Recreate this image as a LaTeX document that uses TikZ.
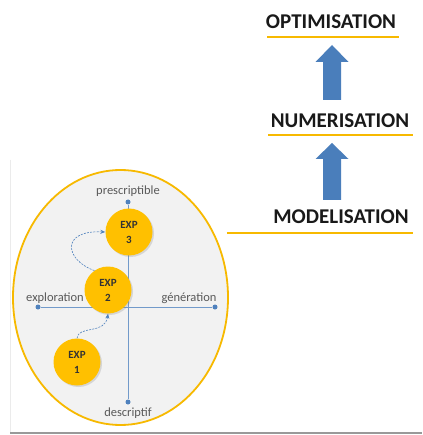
\documentclass[tikz,border=0pt]{standalone}
\usepackage{fontspec}
\setmainfont{Carlito}
\usetikzlibrary{arrows.meta,shapes.geometric,shadows}
\definecolor{gold}{HTML}{FFC000}
\definecolor{goldline}{HTML}{F7B900}
\definecolor{axisblue}{HTML}{4F81BD}
\definecolor{arrowblue}{HTML}{4A7EBB}
\definecolor{lbl}{HTML}{595959}
\tikzset{
  x=1pt, y=-1pt,
  title/.style={font=\bfseries\fontsize{21}{24}\selectfont, text=black!90, inner sep=0pt},
  uline/.style={draw=goldline, line width=2.4pt},
  expnode/.style={circle, fill=gold, minimum size=47pt, inner sep=0pt, align=center,
     font=\bfseries\fontsize{11}{15}\selectfont, text=black!80,
     drop shadow={shadow xshift=1.5pt, shadow yshift=-1.5pt, opacity=0.25}},
  axis/.style={draw=axisblue!80, line width=0.6pt},
  dot/.style={circle, fill=axisblue, inner sep=0pt, minimum size=5pt},
  axlabel/.style={font=\fontsize{12.5}{14}\selectfont, text=lbl, inner sep=1pt},
  flow/.style={draw=axisblue, line width=0.6pt, dash pattern=on 2pt off 1.2pt, -{Stealth[length=5pt,width=4pt]}},
  bigarrow/.style={fill=arrowblue, draw=none}
}
\begin{document}
\begin{tikzpicture}
\useasboundingbox (0,0) rectangle (422,435);
\fill[white] (0,0) rectangle (422,435);
% frame
\draw[black!8, line width=0.8pt] (10,160) -- (10,432);
\draw[black!40, line width=2pt] (10,433) -- (422,433);
% ellipse
\node[ellipse, draw=goldline, line width=1.8pt, fill=black!5, minimum width=215pt, minimum height=255pt, inner sep=0pt] (ell) at (120.5,297.5) {};
% axes
\node[dot] (top) at (128,202) {};
\node[dot] (bot) at (128,402) {};
\node[dot] (lft) at (38,307) {};
\node[dot] (rgt) at (215,307) {};
\draw[axis] (top) -- (bot);
\draw[axis] (lft) -- (rgt);
\node[axlabel] (ptxt) at (128,191) {prescriptible};
\node[axlabel] (dtxt) at (128,413) {descriptif};
\node[axlabel] (etxt) at (55,298) {exploration};
\node[axlabel] (gtxt) at (189,298) {génération};
% experiments
\node[expnode] (e3) at (129,232) {EXP\\3};
\node[expnode] (e2) at (108,290) {EXP\\2};
\node[expnode] (e1) at (77,362) {EXP\\1};
\draw[flow] (e1.north) .. controls (78,325) and (105,335) .. (e2.south);
\draw[flow] (e2.125) .. controls (65,260) and (60,230) .. (e3.west);
% right column
\node[title] (opt) at (331,22) {OPTIMISATION};
\node[title] (num) at (340,121) {NUMERISATION};
\node[title] (mod) at (341,217) {MODELISATION};
\coordinate (o1) at (267,37); \coordinate (o2) at (399,37);
\coordinate (n1) at (268,135); \coordinate (n2) at (413,135);
\coordinate (m2) at (413,233);
\draw[uline] (o1) -- (o2);
\draw[uline] (n1) -- (n2);
\draw[uline] (ell.east |- m2) ++(-2,0) -- (m2);
% block arrows
\fill[bigarrow] (323,100) -- (323,62) -- (315.5,62) -- (332,45) -- (348.5,62) -- (341,62) -- (341,100) -- cycle;
\fill[bigarrow] (323,200) -- (323,159) -- (315.5,159) -- (332,143) -- (348.5,159) -- (341,159) -- (341,200) -- cycle;
\end{tikzpicture}
\end{document}
